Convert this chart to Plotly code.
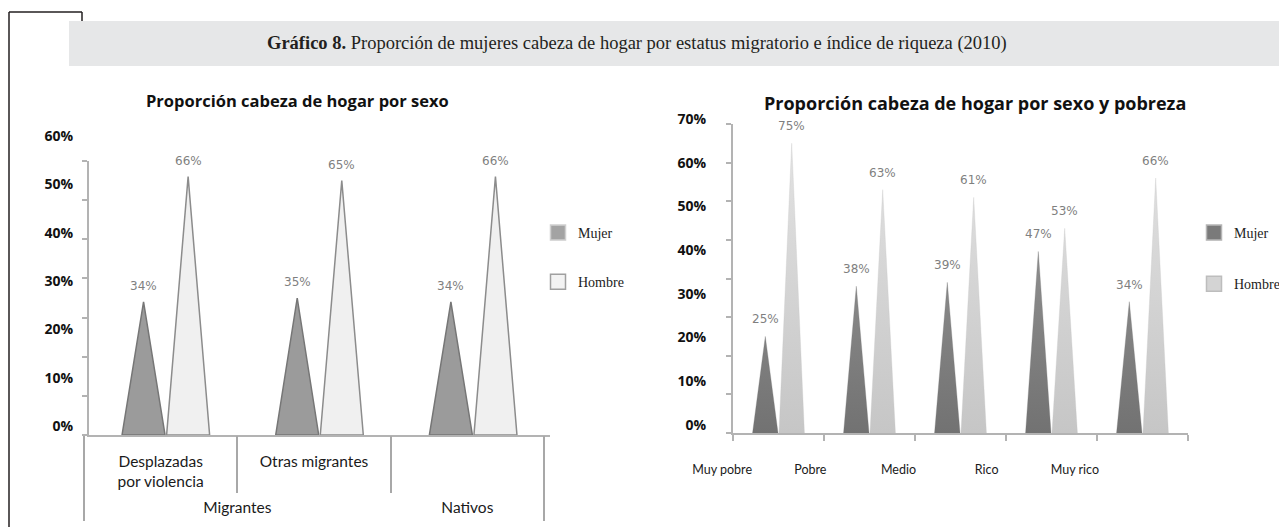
import plotly.graph_objects as go

# --- data -------------------------------------------------------------
left_groups = ["Migrantes", "Migrantes", "Nativos"]
left_sub = ["Desplazadas<br>por violencia", "Otras migrantes", ""]
left_mujer = [34, 35, 34]
left_hombre = [66, 65, 66]
left_ticks = [0, 10, 20, 30, 40, 50, 60]

right_levels = ["Muy pobre", "Pobre", "Medio", "Rico", "Muy rico"]
right_mujer = [25, 38, 39, 47, 34]
right_hombre = [75, 63, 61, 53, 66]
right_ticks = [0, 10, 20, 30, 40, 50, 60, 70]

# la página tiene 8px de margen en el body
PAD = 8
W, H = 1287 - PAD, 527 - PAD


def fx(px):
    return (px - PAD) / W


def fy(py):
    return 1 - (py - PAD) / H


def triangles(values, side, half=0.14, gap=0.005):
    """Puntas triangulares para cada categoría (side=-1 Mujer, +1 Hombre)."""
    xs, ys = [], []
    for i, v in enumerate(values):
        a = i + side * gap
        b = i + side * (gap + 2 * half)
        peak = i + side * (gap + half)
        xs += [a, peak, b, a, None]
        ys += [0, v, 0, 0, None]
    return xs, ys


def peak_x(i, side, half=0.14, gap=0.005):
    return i + side * (gap + half)


GRID = "#b3b3b3"
LABEL_FONT = dict(family="Lato", size=15.5, color="#1a1a1a")
PCT_FONT = dict(family="DejaVu Sans", size=12, color="#7f7f7f")
AXIS_FONT = dict(family="Open Sans", size=14, color="#111111", weight="bold")

fig = go.Figure()

# --- gráfico izquierdo -------------------------------------------------
for vals, side, fill, line in [(left_mujer, -1, "#9b9b9b", "#767676"),
                               (left_hombre, 1, "#f0f0f0", "#8c8c8c")]:
    xs, ys = triangles(vals, side)
    fig.add_trace(go.Scatter(x=xs, y=ys, fill="toself", mode="lines",
                             fillcolor=fill, line=dict(color=line, width=1.5),
                             showlegend=False, hoverinfo="skip",
                             xaxis="x", yaxis="y"))

# --- gráfico derecho (relleno degradado) -------------------------------
for vals, side, c0, c1 in [(right_mujer, -1, "#727272", "#8e8e8e"),
                           (right_hombre, 1, "#c6c6c6", "#e2e2e2")]:
    xs, ys = triangles(vals, side)
    fig.add_trace(go.Scatter(x=xs, y=ys, fill="toself", mode="lines",
                             fillgradient=dict(type="vertical",
                                               colorscale=[[0, c0], [1, c1]]),
                             line=dict(color=c0, width=0.3),
                             showlegend=False, hoverinfo="skip",
                             xaxis="x6", yaxis="y3"))

# ejes auxiliares sin datos (etiquetas y líneas de la tabla)
for xa, ya in [("x2", "y"), ("x3", "y"), ("x4", "y"), ("x5", "y"),
               ("x", "y2"), ("x7", "y3"), ("x6", "y4")]:
    fig.add_trace(go.Scatter(x=[None], y=[None], xaxis=xa, yaxis=ya,
                             showlegend=False, hoverinfo="skip"))

# leyendas
legend_items = [
    ("Mujer", "#a3a3a3", "#cfcfcf", "legend"),
    ("Hombre", "#f3f3f3", "#a0a0a0", "legend"),
    ("Mujer", "#7a7a7a", "#b5b5b5", "legend2"),
    ("Hombre", "#d4d4d4", "#bdbdbd", "legend2"),
]
for k, (name, col, edge, leg) in enumerate(legend_items):
    fig.add_trace(go.Scatter(x=[None], y=[None], mode="markers", name=name,
                             marker=dict(symbol="square", size=15, color=col,
                                         line=dict(color=edge, width=1.5)),
                             legend=leg, legendgroup=f"g{k}",
                             xaxis="x", yaxis="y"))

# etiquetas de porcentaje
for vals, side in [(left_mujer, -1), (left_hombre, 1)]:
    for i, v in enumerate(vals):
        fig.add_annotation(x=peak_x(i, side), y=v, xref="x", yref="y",
                           text=f"{v}%", showarrow=False, yshift=16,
                           xanchor="center", font=PCT_FONT)
for vals, side in [(right_mujer, -1), (right_hombre, 1)]:
    for i, v in enumerate(vals):
        fig.add_annotation(x=peak_x(i, side), y=v, xref="x6", yref="y3",
                           text=f"{v}%", showarrow=False, yshift=17,
                           xanchor="center", font=PCT_FONT)

# centros de los grupos (Migrantes / Nativos)
group_names, group_pos = [], []
for g in dict.fromkeys(left_groups):
    idx = [i for i, name in enumerate(left_groups) if name == g]
    group_names.append(g)
    group_pos.append(sum(idx) / len(idx))

n_left = len(left_sub)
n_right = len(right_levels)
left_bounds = [i - 0.5 for i in range(n_left + 1)]
right_bounds = [i - 0.5 for i in range(n_right + 1)]

plain = dict(showgrid=False, zeroline=False, automargin=False)
table_dom = [fx(84), fx(544)]

fig.update_layout(
    width=W, height=H, autosize=False,
    margin=dict(l=0, r=0, t=0, b=0, autoexpand=False),
    paper_bgcolor="white", plot_bgcolor="rgba(0,0,0,0)",
    # izquierdo
    xaxis=dict(domain=[fx(89), fx(550)], range=[-0.5, n_left - 0.5],
               showline=True, linecolor=GRID, linewidth=2, ticks="",
               showticklabels=False, anchor="y", **plain),
    yaxis=dict(domain=[fy(435), fy(161)], range=[0, 70],
               tickvals=list(range(0, 71, 10)), ticks="outside", ticklen=5,
               tickcolor=GRID, tickwidth=1.5, showticklabels=False,
               showline=True, linecolor=GRID, linewidth=2, anchor="x", **plain),
    yaxis2=dict(domain=[fy(426), fy(136)], range=[0, 60],
                tickvals=left_ticks, ticktext=[f"{t}%" for t in left_ticks],
                tickfont=AXIS_FONT, ticks="", showline=False, anchor="x",
                ticklabelstandoff=15, **plain),
    xaxis2=dict(domain=table_dom, range=[-0.5, n_left - 0.5],
                tickvals=list(range(n_left)), ticktext=left_sub,
                tickfont=LABEL_FONT, ticks="", showline=False, anchor="y",
                ticklabelstandoff=15, **plain),
    xaxis3=dict(domain=table_dom, range=[-0.5, n_left - 0.5],
                tickvals=left_bounds, ticks="outside", ticklen=57,
                tickwidth=1.5, tickcolor="#a8a8a8", showticklabels=False,
                showline=False, anchor="y", **plain),
    xaxis4=dict(domain=table_dom, range=[-0.5, n_left - 0.5],
                tickvals=[left_bounds[0], left_bounds[-1]], ticks="outside",
                ticklen=85, tickwidth=1.5, tickcolor="#a8a8a8",
                showticklabels=False, showline=False, anchor="y", **plain),
    xaxis5=dict(domain=table_dom, range=[-0.5, n_left - 0.5],
                tickvals=group_pos, ticktext=group_names, tickfont=LABEL_FONT,
                ticks="", showline=False, anchor="y", ticklabelstandoff=61,
                **plain),
    # derecho
    xaxis6=dict(domain=[fx(733), fx(1188)], range=[-0.5, n_right - 0.5],
                tickvals=right_bounds, ticks="outside", ticklen=6,
                tickcolor=GRID, tickwidth=1.5, showticklabels=False,
                showline=True, linecolor=GRID, linewidth=2, anchor="y3", **plain),
    yaxis3=dict(domain=[fy(433), fy(124)], range=[0, 80],
                tickvals=list(range(0, 81, 10)), ticks="outside", ticklen=5,
                tickcolor=GRID, tickwidth=1.5, showticklabels=False,
                showline=True, linecolor=GRID, linewidth=2, anchor="x6", **plain),
    yaxis4=dict(domain=[fy(425), fy(119)], range=[0, 70],
                tickvals=right_ticks, ticktext=[f"{t}%" for t in right_ticks],
                tickfont=AXIS_FONT, ticks="", showline=False, anchor="x6",
                ticklabelstandoff=26, **plain),
    xaxis7=dict(domain=[fx(678), fx(1119)], range=[-0.5, n_right - 0.5],
                tickvals=list(range(n_right)), ticktext=right_levels,
                tickfont=dict(LABEL_FONT, size=12.5), ticks="", showline=False,
                anchor="y3", ticklabelstandoff=27, **plain),
    legend=dict(x=fx(538), y=fy(217), xanchor="left", yanchor="top",
                font=dict(family="Liberation Serif", size=14, color="#222"),
                tracegroupgap=28, bgcolor="rgba(0,0,0,0)"),
    legend2=dict(x=fx(1194), y=fy(217), xanchor="left", yanchor="top",
                 font=dict(family="Liberation Serif", size=14, color="#222"),
                 tracegroupgap=30, bgcolor="rgba(0,0,0,0)"),
)

# marco y barra de título
fig.add_shape(type="rect", xref="paper", yref="paper", x0=fx(69), x1=1,
              y0=fy(66), y1=fy(21), fillcolor="#e6e7e8", line_width=0,
              layer="below")
for x0, y0, x1, y1 in [(9, 12, 9, 527), (9, 12, 82, 12), (82, 12, 82, 21)]:
    fig.add_shape(type="line", xref="paper", yref="paper",
                  x0=fx(x0), y0=fy(y0), x1=fx(x1), y1=fy(y1),
                  line=dict(color="#231f20", width=1.5))

fig.add_annotation(xref="paper", yref="paper", x=fx(637), y=fy(44),
                   xanchor="center", yanchor="middle",
                   text="<b>Gráfico 8.</b> Proporción de mujeres cabeza de hogar "
                        "por estatus migratorio e índice de riqueza (2010)",
                   showarrow=False,
                   font=dict(family="Liberation Serif", size=18.5, color="#231f20"))
fig.add_annotation(xref="paper", yref="paper", x=fx(297), y=fy(101),
                   xanchor="center", yanchor="middle",
                   text="<b>Proporción cabeza de hogar por sexo</b>",
                   showarrow=False,
                   font=dict(family="Open Sans", size=16.5, color="#111"))
fig.add_annotation(xref="paper", yref="paper", x=fx(975), y=fy(103),
                   xanchor="center", yanchor="middle",
                   text="<b>Proporción cabeza de hogar por sexo y pobreza</b>",
                   showarrow=False,
                   font=dict(family="Open Sans", size=18, color="#111"))

fig.write_html("out.html")
